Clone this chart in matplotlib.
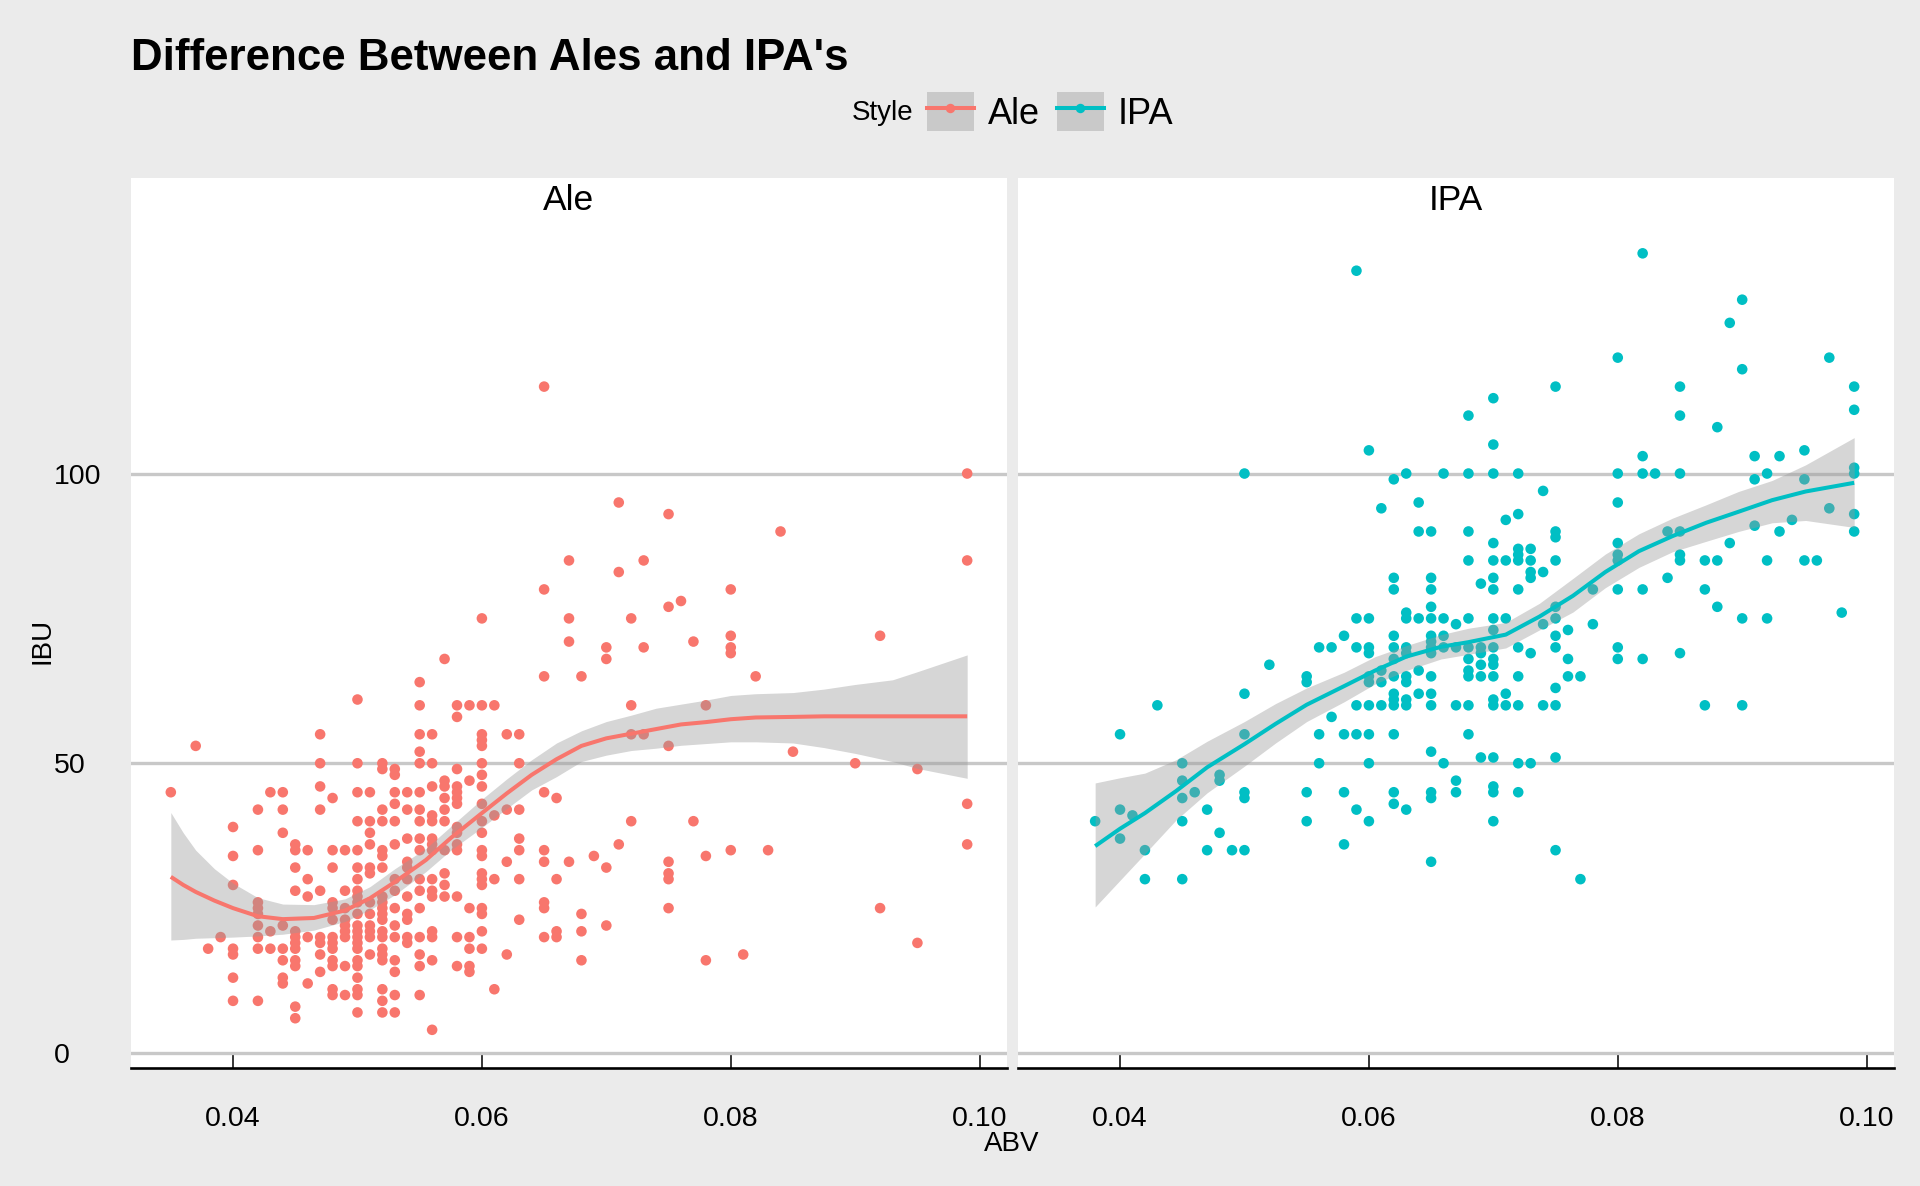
import numpy as np
import matplotlib.pyplot as plt
from matplotlib.lines import Line2D
from matplotlib.patches import Patch
from matplotlib.legend_handler import HandlerTuple

plt.rcParams['font.family'] = ['Liberation Sans', 'DejaVu Sans']

# ABV -> list of IBU values
ale_points = {
    0.035: [45], 0.037: [53], 0.038: [18], 0.039: [20],
    0.040: [39, 34, 29, 18, 17, 13, 9],
    0.042: [42, 35, 26, 25, 24, 22, 20, 18, 9],
    0.043: [45, 21, 18],
    0.044: [45, 42, 38, 22, 18, 16, 13, 12],
    0.045: [36, 35, 32, 28, 21, 20, 19, 18, 16, 15, 8, 6],
    0.046: [35, 30, 27, 20, 12],
    0.047: [55, 50, 46, 42, 28, 20, 19, 17, 14],
    0.048: [44, 35, 32, 26, 25, 23, 20, 19, 18, 16, 15, 11, 10],
    0.049: [35, 28, 25, 23, 22, 21, 20, 15, 10],
    0.050: [61, 50, 45, 40, 35, 32, 30, 28, 27, 26, 24, 22, 21, 20, 19, 18, 16, 15, 13, 11, 10, 7],
    0.051: [45, 40, 38, 36, 32, 31, 26, 24, 22, 21, 20, 17],
    0.052: [50, 49, 42, 40, 35, 34, 32, 27, 26, 25, 24, 23, 21, 20, 18, 17, 16, 11, 9, 7],
    0.053: [49, 48, 45, 43, 40, 36, 30, 28, 25, 22, 20, 16, 14, 10, 7],
    0.054: [45, 42, 37, 33, 32, 30, 27, 24, 23, 20, 19],
    0.055: [64, 60, 55, 52, 50, 45, 42, 40, 37, 35, 30, 28, 25, 20, 17, 15, 10],
    0.056: [55, 50, 46, 41, 40, 37, 36, 35, 30, 28, 27, 21, 20, 16, 4],
    0.057: [68, 47, 46, 44, 42, 40, 35, 31, 29, 27],
    0.058: [60, 58, 49, 46, 45, 44, 43, 39, 38, 36, 35, 27, 20, 15],
    0.059: [60, 47, 25, 20, 18, 15, 14],
    0.060: [75, 60, 55, 54, 53, 50, 48, 46, 43, 40, 38, 35, 34, 31, 30, 29, 25, 24, 21, 18],
    0.061: [60, 41, 30, 11],
    0.062: [55, 42, 33, 17],
    0.063: [55, 50, 42, 37, 35, 30, 23],
    0.065: [115, 80, 65, 45, 35, 33, 26, 25, 20],
    0.066: [44, 30, 21, 20],
    0.067: [85, 75, 71, 33],
    0.068: [65, 24, 21, 16],
    0.069: [34],
    0.070: [70, 68, 32, 22],
    0.071: [95, 83, 36],
    0.072: [75, 60, 55, 40],
    0.073: [85, 70, 55],
    0.075: [93, 77, 53, 33, 31, 30, 25],
    0.076: [78], 0.077: [71, 40], 0.078: [60, 34, 16],
    0.080: [80, 72, 70, 69, 35],
    0.081: [17], 0.082: [65], 0.083: [35], 0.084: [90], 0.085: [52],
    0.090: [50], 0.092: [72, 25], 0.095: [49, 19],
    0.099: [100, 85, 43, 36],
}

ipa_points = {
    0.038: [40], 0.040: [55, 42, 37], 0.041: [41], 0.042: [35, 30], 0.043: [60],
    0.045: [50, 47, 44, 40, 30], 0.046: [45], 0.047: [42, 35], 0.048: [48, 47, 38],
    0.049: [35], 0.050: [100, 62, 55, 45, 44, 35], 0.052: [67],
    0.055: [65, 64, 45, 40], 0.056: [70, 55, 50], 0.057: [70, 58],
    0.058: [72, 55, 45, 36],
    0.059: [135, 75, 70, 60, 55, 42],
    0.060: [104, 75, 70, 69, 65, 64, 60, 55, 50, 40],
    0.061: [94, 66, 64, 60],
    0.062: [99, 82, 80, 72, 70, 68, 65, 62, 61, 60, 55, 45, 43],
    0.063: [100, 76, 75, 70, 69, 65, 64, 61, 60, 42],
    0.064: [95, 90, 75, 66, 62],
    0.065: [90, 82, 80, 77, 75, 72, 71, 70, 69, 65, 62, 60, 52, 45, 44, 33],
    0.066: [100, 75, 72, 70, 50],
    0.067: [74, 70, 60, 47, 45],
    0.068: [110, 100, 90, 85, 75, 70, 68, 66, 65, 60, 55],
    0.069: [81, 70, 69, 67, 65, 51],
    0.070: [113, 105, 100, 88, 85, 82, 80, 75, 73, 70, 68, 67, 65, 61, 60, 51, 46, 45, 40],
    0.071: [92, 85, 75, 62, 60],
    0.072: [100, 93, 87, 86, 85, 80, 70, 65, 60, 50, 45],
    0.073: [87, 85, 83, 82, 69, 50],
    0.074: [97, 83, 74, 60],
    0.075: [115, 90, 89, 85, 77, 75, 72, 70, 63, 60, 51, 35],
    0.076: [73, 68, 65], 0.077: [65, 30], 0.078: [80, 74],
    0.080: [120, 100, 95, 88, 86, 85, 80, 70, 68],
    0.082: [138, 103, 100, 80, 68],
    0.083: [100], 0.084: [90, 82],
    0.085: [115, 110, 100, 90, 86, 85, 69],
    0.087: [85, 80, 60], 0.088: [108, 85, 77], 0.089: [126, 88],
    0.090: [130, 118, 75, 60], 0.091: [103, 99, 91], 0.092: [100, 85, 75],
    0.093: [103, 90], 0.094: [92], 0.095: [104, 99, 85], 0.096: [85],
    0.097: [120, 94], 0.098: [76],
    0.099: [115, 111, 101, 100, 93, 90],
}

# smoother (loess) line and its confidence band
ale_fit_x = [0.035, 0.036, 0.037, 0.0385, 0.040, 0.042, 0.044, 0.0465, 0.049, 0.051, 0.053,
             0.0555, 0.0575, 0.060, 0.062, 0.064, 0.066, 0.068, 0.070, 0.072, 0.074, 0.076,
             0.078, 0.080, 0.082, 0.085, 0.0875, 0.090, 0.093, 0.095, 0.099]
ale_fit_y = [30.4, 29.0, 27.8, 26.3, 25.0, 23.6, 23.1, 23.3, 24.6, 26.7, 29.5, 33.3, 37.1,
             41.4, 44.8, 48.0, 50.7, 53.0, 54.3, 55.1, 55.9, 56.7, 57.1, 57.6, 57.9, 58.0,
             58.1, 58.1, 58.1, 58.1, 58.1]
ale_fit_lo = [19.5, 19.6, 19.8, 19.9, 20.0, 20.2, 20.5, 21.2, 22.7, 24.7, 27.3, 31.3, 35.0,
              38.9, 42.2, 45.4, 47.7, 50.3, 51.4, 52.2, 52.6, 53.1, 53.4, 53.7, 53.7, 53.5,
              52.7, 51.7, 50.3, 49.1, 47.4]
ale_fit_hi = [41.5, 38.0, 35.0, 31.8, 29.3, 26.8, 25.7, 25.6, 26.6, 28.7, 31.8, 35.3, 39.1,
              43.8, 47.3, 50.6, 53.5, 55.6, 57.2, 58.3, 59.5, 60.2, 60.9, 61.7, 62.0, 62.2,
              62.8, 63.6, 64.4, 65.8, 68.7]

ipa_fit_x = [0.038, 0.040, 0.042, 0.0445, 0.047, 0.050, 0.0525, 0.055, 0.058, 0.0605,
             0.063, 0.0658, 0.068, 0.071, 0.0737, 0.0764, 0.079, 0.0817, 0.0844, 0.0871,
             0.0897, 0.0924, 0.0951, 0.099]
ipa_fit_y = [35.7, 38.7, 41.4, 45.2, 49.3, 53.3, 56.8, 60.1, 63.3, 66.0, 68.4, 70.1, 70.9,
             72.2, 75.3, 78.9, 83.0, 86.6, 89.2, 91.5, 93.4, 95.4, 96.9, 98.4]
ipa_fit_lo = [25.2, 29.8, 34.4, 40.2, 44.9, 49.5, 53.5, 57.2, 60.6, 63.7, 66.0, 68.0, 68.8,
              69.9, 73.0, 76.1, 80.3, 83.8, 86.5, 88.3, 90.0, 91.5, 91.9, 90.7]
ipa_fit_hi = [46.6, 47.5, 48.3, 50.6, 53.8, 57.2, 60.3, 63.0, 65.7, 68.4, 70.3, 72.2, 73.3,
              74.3, 77.6, 81.9, 86.1, 89.6, 92.3, 94.6, 96.9, 98.8, 101.5, 106.2]

styles = ['Ale', 'IPA']
colors = ['#F8766D', '#00BFC4']
x_ticks = [0.04, 0.06, 0.08, 0.10]
y_ticks = [0, 50, 100]


def expand(cols):
    xs, ys = [], []
    for abv, ibus in cols.items():
        xs += [abv] * len(ibus)
        ys += ibus
    return np.array(xs), np.array(ys)


W, H = 1920, 1186
BG = '#EBEBEB'
fig = plt.figure(figsize=(W / 100, H / 100), dpi=100, facecolor=BG)


def px_box(l, t, r, b):
    return [l / W, 1 - b / H, (r - l) / W, (b - t) / H]


panels = [
    (ale_points, ale_fit_x, ale_fit_y, ale_fit_lo, ale_fit_hi, px_box(131, 178, 1007, 1068)),
    (ipa_points, ipa_fit_x, ipa_fit_y, ipa_fit_lo, ipa_fit_hi, px_box(1018, 178, 1894, 1068)),
]

for i, (pts, fx, fy, flo, fhi, box) in enumerate(panels):
    ax = fig.add_axes(box)
    ax.set_facecolor('white')
    x, y = expand(pts)
    ax.scatter(x, y, s=58, color=colors[i], edgecolors='none', zorder=2)
    ax.fill_between(fx, flo, fhi, color='#999999', alpha=0.4, lw=0, zorder=3)
    ax.plot(fx, fy, color=colors[i], lw=2.9, zorder=4, solid_capstyle='butt')

    ax.set_xlim(0.0318, 0.1022)
    ax.set_ylim(-2.59, 151.0)
    ax.set_axisbelow(True)
    ax.set_yticks(y_ticks)
    ax.yaxis.grid(True, color='#C8C8C8', lw=2.4)
    ax.set_xticks(x_ticks)
    ax.set_xticklabels([f'{t:.2f}' for t in x_ticks])

    for s in ['top', 'right', 'left']:
        ax.spines[s].set_visible(False)
    ax.spines['bottom'].set_color('black')
    ax.spines['bottom'].set_linewidth(1.9)

    ax.tick_params(axis='x', direction='in', length=10, width=1.1, pad=27,
                   labelsize=20.5, colors='black')
    if i == 0:
        ax.tick_params(axis='y', length=0, pad=55.4, labelsize=20.5)
        for lab in ax.get_yticklabels():
            lab.set_horizontalalignment('left')
    else:
        ax.tick_params(axis='y', length=0, labelleft=False)

    ax.text(0.5, 1 - 23 / 890, styles[i], transform=ax.transAxes, ha='center', va='center',
            fontsize=25.5)

fig.text(131 / W, 1 - 70 / H, "Difference Between Ales and IPA's", fontsize=31.6,
         fontweight='bold', ha='left', va='baseline')
fig.text(43 / W, 1 - 641 / H, 'IBU', rotation=90, fontsize=20, ha='center', va='center')
fig.text(1012 / W, 1 - 1144 / H, 'ABV', fontsize=20, ha='center', va='center')

# legend
fig.text(852 / W, 1 - 113 / H, 'Style', fontsize=20, ha='left', va='center')
handles = [(Patch(facecolor='#C9C9C9', edgecolor='none'),
            Line2D([], [], color=c, lw=2.9, marker='o', ms=6.8, markeredgewidth=0))
           for c in colors]
fig.legend(handles, styles, handler_map={tuple: HandlerTuple(ndivide=1, pad=0)},
           ncol=2, loc='center', bbox_to_anchor=(1050 / W, 1 - 112 / H), frameon=False,
           fontsize=26, handlelength=1.3, handleheight=1.27, handletextpad=0.39,
           columnspacing=0.47, borderpad=0, borderaxespad=0)

fig.savefig('out.png', dpi=100, facecolor=BG)
